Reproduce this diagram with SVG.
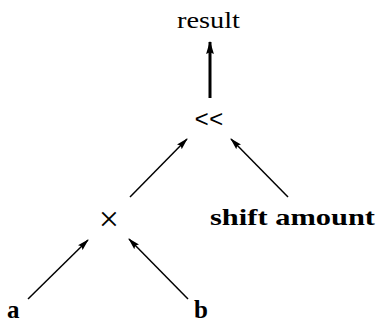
<svg xmlns="http://www.w3.org/2000/svg" width="379" height="322" viewBox="0 0 379 322">
<style>
.lbl{font-family:"Liberation Serif","Times New Roman",serif;fill:#000}
.b{font-weight:bold}
.edge{stroke:#000;stroke-width:1.5;fill:none}
.thick{stroke-width:3}
</style>
<defs>
<marker id="ah" viewBox="0 0 12 8" refX="11" refY="4" markerWidth="12" markerHeight="8" markerUnits="userSpaceOnUse" orient="auto">
<path d="M0,0.6 L12,4 L0,7.4 L2,4 Z" fill="#000"/>
</marker>
<marker id="ahT" viewBox="0 0 12 8" refX="11" refY="4" markerWidth="13" markerHeight="9" markerUnits="userSpaceOnUse" orient="auto">
<path d="M0,0.4 L12,4 L0,7.6 L1.5,4 Z" fill="#000"/>
</marker>
</defs>
<g id="connectors">
<line class="edge" x1="28" y1="299" x2="88" y2="240" marker-end="url(#ah)"/>
<line class="edge" x1="188" y1="299" x2="129" y2="239" marker-end="url(#ah)"/>
<line class="edge" x1="130" y1="197" x2="187" y2="139" marker-end="url(#ah)"/>
<line class="edge" x1="288" y1="197" x2="231" y2="139" marker-end="url(#ah)"/>
<line class="edge thick" x1="210" y1="98" x2="210" y2="42" marker-end="url(#ahT)"/>
</g>
<g id="result"><text class="lbl" x="177" y="28" font-size="23" textLength="63" lengthAdjust="spacingAndGlyphs">result</text></g>
<g id="shl"><text x="209" y="127" font-family="'Liberation Mono','DejaVu Sans Mono',monospace" font-size="24" text-anchor="middle">&lt;&lt;</text></g>
<g id="mul"><text class="lbl" x="109" y="231" font-size="36" text-anchor="middle">×</text></g>
<g id="shift"><text class="lbl b" x="210" y="225" font-size="23" textLength="165" lengthAdjust="spacingAndGlyphs">shift amount</text></g>
<g id="a"><text class="lbl b" x="7" y="318" font-size="25">a</text></g>
<g id="b"><text class="lbl b" x="194" y="318" font-size="25">b</text></g>
</svg>
